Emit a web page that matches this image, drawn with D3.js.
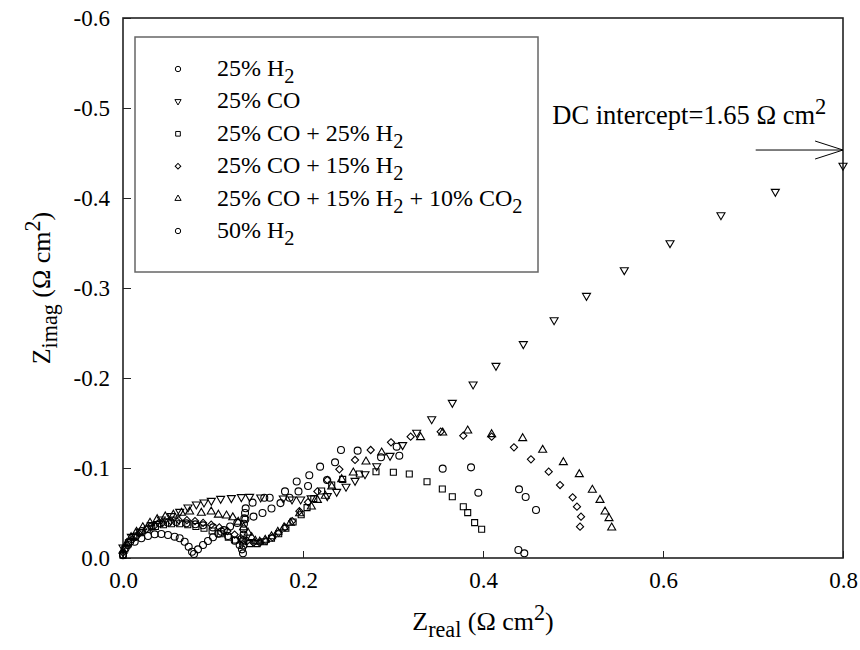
<!DOCTYPE html>
<html>
<head>
<meta charset="utf-8">
<script src="https://cdn.jsdelivr.net/npm/d3@7"></script>
<style>
  body { margin: 0; background: #fff; }
  text { font-family: "Liberation Serif", "Times New Roman", serif; }
</style>
</head>
<body>
<div id="chart"></div>
<script>
// series names (legend order)
let seriesNames = ['25% H2', '25% CO', '25% CO + 25% H2', '25% CO + 15% H2', '25% CO + 15% H2 + 10% CO2', '50% H2'];

// [Zreal, Zimag] pairs
let h2_25 = [
  [0.000, -0.003], [0.003, -0.011], [0.008, -0.018], [0.014, -0.024], [0.021, -0.030], [0.0315, -0.0348],
  [0.0407, -0.0385], [0.050, -0.0393], [0.0593, -0.040], [0.0704, -0.0385], [0.0804, -0.0374], [0.0889, -0.0363],
  [0.100, -0.034], [0.1093, -0.0293], [0.1167, -0.0244], [0.1241, -0.0193], [0.1296, -0.0144], [0.1322, -0.0096],
  [0.1333, -0.0052], [0.1337, -0.014], [0.1337, -0.020], [0.1340, -0.026], [0.1341, -0.032], [0.1344, -0.038],
  [0.1348, -0.044], [0.1356, -0.050], [0.1363, -0.0552], [0.144, -0.0615], [0.157, -0.067], [0.163, -0.067],
  [0.180, -0.074], [0.193, -0.085], [0.207, -0.092], [0.219, -0.1015], [0.2422, -0.120], [0.2607, -0.1193],
  [0.3041, -0.1237], [0.3867, -0.1007], [0.3948, -0.0726], [0.4393, -0.0089], [0.4459, -0.0052]
];
let co_25 = [
  [0.000, -0.0119], [0.0093, -0.0237], [0.0185, -0.0293], [0.0315, -0.0367], [0.0426, -0.043], [0.0537, -0.0467],
  [0.063, -0.0515], [0.0722, -0.0563], [0.0815, -0.0596], [0.090, -0.0619], [0.0981, -0.0637], [0.1085, -0.0659],
  [0.1204, -0.0667], [0.1315, -0.0678], [0.1407, -0.0681], [0.153, -0.0674], [0.1781, -0.0663], [0.1878, -0.0652],
  [0.1974, -0.0652], [0.209, -0.0665], [0.227, -0.0689], [0.2374, -0.0737], [0.2478, -0.0793], [0.2578, -0.0859],
  [0.2689, -0.0933], [0.2819, -0.1022], [0.2967, -0.1137], [0.3107, -0.1256], [0.3263, -0.1393], [0.343, -0.1544],
  [0.3659, -0.1726], [0.389, -0.193], [0.4144, -0.2137], [0.4448, -0.2378], [0.479, -0.2644], [0.515, -0.2914],
  [0.557, -0.320], [0.6078, -0.350], [0.6644, -0.381], [0.7248, -0.407], [0.800, -0.436]
];
let co25_h2_25 = [
  [0.000, -0.003], [0.002, -0.010], [0.006, -0.017], [0.012, -0.023], [0.019, -0.028], [0.027, -0.032],
  [0.036, -0.035], [0.045, -0.037], [0.054, -0.038], [0.063, -0.038], [0.072, -0.037], [0.081, -0.035],
  [0.090, -0.033], [0.099, -0.030], [0.108, -0.027], [0.117, -0.023], [0.125, -0.020], [0.133, -0.018],
  [0.141, -0.016], [0.149, -0.016], [0.157, -0.018], [0.165, -0.022], [0.173, -0.027], [0.181, -0.033],
  [0.189, -0.040], [0.198, -0.048], [0.2045, -0.056], [0.212, -0.066], [0.2207, -0.0744], [0.2319, -0.0811],
  [0.2441, -0.0874], [0.2626, -0.0933], [0.2811, -0.0959], [0.3004, -0.0952], [0.3181, -0.0933], [0.3378, -0.0848],
  [0.3548, -0.0767], [0.3659, -0.0681], [0.3781, -0.057], [0.383, -0.0504], [0.3907, -0.0393], [0.3985, -0.0319]
];
let co25_h2_15 = [
  [0.000, -0.006], [0.005, -0.014], [0.011, -0.021], [0.018, -0.027], [0.026, -0.032], [0.035, -0.036],
  [0.044, -0.039], [0.053, -0.041], [0.062, -0.042], [0.071, -0.042], [0.080, -0.041], [0.089, -0.039],
  [0.098, -0.037], [0.107, -0.034], [0.116, -0.030], [0.124, -0.026], [0.131, -0.022], [0.138, -0.019],
  [0.145, -0.017], [0.152, -0.017], [0.159, -0.019], [0.166, -0.023], [0.173, -0.028], [0.180, -0.034],
  [0.188, -0.041], [0.196, -0.052], [0.2056, -0.062], [0.216, -0.074], [0.227, -0.0867], [0.2404, -0.0985],
  [0.2578, -0.1089], [0.2752, -0.120], [0.2978, -0.1285], [0.3196, -0.1348], [0.353, -0.1404], [0.3781, -0.1359],
  [0.4096, -0.1348], [0.4344, -0.123], [0.4533, -0.1096], [0.473, -0.0959], [0.4856, -0.0811], [0.4996, -0.0674],
  [0.5044, -0.057], [0.5089, -0.0459], [0.5078, -0.0348]
];
let co25_h2_15_co2_10 = [
  [0.000, -0.008], [0.004, -0.016], [0.009, -0.023], [0.015, -0.029], [0.022, -0.034], [0.030, -0.039],
  [0.038, -0.043], [0.047, -0.046], [0.056, -0.048], [0.065, -0.050], [0.074, -0.0515], [0.087, -0.050],
  [0.098, -0.0515], [0.106, -0.048], [0.115, -0.047], [0.122, -0.045], [0.128, -0.040], [0.134, -0.034],
  [0.139, -0.028], [0.143, -0.023], [0.147, -0.019], [0.152, -0.018], [0.158, -0.020], [0.165, -0.024],
  [0.172, -0.029], [0.179, -0.034], [0.186, -0.039], [0.1963, -0.0496], [0.2093, -0.057], [0.216, -0.0644],
  [0.2248, -0.0689], [0.2319, -0.0793], [0.243, -0.0874], [0.2559, -0.0948], [0.270, -0.107], [0.2874, -0.117],
  [0.3307, -0.1341], [0.3552, -0.1393], [0.383, -0.1415], [0.4096, -0.1374], [0.4441, -0.133], [0.4663, -0.120],
  [0.4893, -0.1063], [0.507, -0.093], [0.5215, -0.0756], [0.530, -0.0644], [0.5356, -0.0515], [0.540, -0.0441],
  [0.543, -0.0337]
];
let h2_50 = [
  [0.000, -0.004], [0.0056, -0.0144], [0.013, -0.0181], [0.0204, -0.0219], [0.0278, -0.0244], [0.0352, -0.0263],
  [0.0426, -0.0267], [0.050, -0.0256], [0.0574, -0.0237], [0.063, -0.0219], [0.0685, -0.0181], [0.073, -0.0126],
  [0.0767, -0.007], [0.0789, -0.0044], [0.0833, -0.0096], [0.0889, -0.0144], [0.0944, -0.0189], [0.100, -0.023],
  [0.106, -0.027], [0.112, -0.031], [0.119, -0.035], [0.127, -0.039], [0.136, -0.043], [0.145, -0.046],
  [0.155, -0.050], [0.165, -0.055], [0.175, -0.061], [0.185, -0.067], [0.195, -0.074], [0.2056, -0.080],
  [0.2267, -0.0867], [0.2356, -0.1063], [0.2867, -0.1119], [0.307, -0.1137], [0.3552, -0.0993], [0.440, -0.0763],
  [0.4474, -0.0678], [0.4589, -0.0533]
];

let xTicks = [0.0, 0.2, 0.4, 0.6, 0.8];
let yTicks = [0.0, -0.1, -0.2, -0.3, -0.4, -0.5, -0.6];

let width = 860;
let height = 650;
let margin = { top: 18, right: 17, bottom: 92, left: 123 };

let allSeries = [h2_25, co_25, co25_h2_25, co25_h2_15, co25_h2_15_co2_10, h2_50];
// marker for each series: [d3 symbol, size, rotation]
let markers = [
  [d3.symbolCircle, 38, 0],
  [d3.symbolTriangle, 28, 180],
  [d3.symbolSquare, 36, 0],
  [d3.symbolSquare, 26, 45],
  [d3.symbolTriangle, 28, 0],
  [d3.symbolCircle, 38, 0]
];

const svg = d3.select('#chart').append('svg')
  .attr('width', width)
  .attr('height', height);

let x = d3.scaleLinear()
  .domain([0, 0.8])
  .range([margin.left, width - margin.right]);

let y = d3.scaleLinear()
  .domain([0, -0.6])
  .range([height - margin.bottom, margin.top]);

let fmt = d => d3.format('.1f')(d).replace('\u2212', '-');

// x axis, ticks point inward
svg.append('g')
  .attr('transform', `translate(0, ${y(0)})`)
  .call(d3.axisBottom(x).tickValues(xTicks).tickSize(-7).tickPadding(14).tickFormat(fmt))
  .call(g => g.select('.domain').remove())
  .call(g => g.selectAll('.tick line').attr('stroke', '#222'))
  .call(g => g.selectAll('.tick text').attr('font-size', 23).attr('fill', '#000'));

svg.append('g')
  .attr('transform', `translate(${x(0)}, 0)`)
  .call(d3.axisLeft(y).tickValues(yTicks).tickSize(-8).tickPadding(13).tickFormat(fmt))
  .call(g => g.select('.domain').remove())
  .call(g => g.selectAll('.tick line').attr('stroke', '#222'))
  .call(g => g.selectAll('.tick text').attr('font-size', 23).attr('fill', '#000'));

// frame
svg.append('rect')
  .attr('x', x(0))
  .attr('y', y(-0.6))
  .attr('width', x(0.8) - x(0))
  .attr('height', y(0) - y(-0.6))
  .attr('fill', 'none')
  .attr('stroke', '#222')
  .attr('stroke-width', 1.6);

// data points
allSeries.forEach((data, i) => {
  let m = markers[i];
  let sym = d3.symbol().type(m[0]).size(m[1]);
  svg.append('g')
    .selectAll('path')
    .data(data)
    .join('path')
    .attr('d', sym)
    .attr('transform', d => `translate(${x(d[0])}, ${y(d[1])}) rotate(${m[2]})`)
    .attr('fill', 'none')
    .attr('stroke', '#000')
    .attr('stroke-width', 1.1);
});

// legend
let legend = svg.append('g');
legend.append('rect')
  .attr('x', 135).attr('y', 37)
  .attr('width', 403).attr('height', 235)
  .attr('fill', '#fff')
  .attr('stroke', '#666')
  .attr('stroke-width', 1.5);

// label with subscripts: split on H2 / CO2
function addLabel(t, str) {
  let parts = str.split(/(H2|CO2)/).filter(s => s.length);
  let shift = 0;
  parts.forEach(p => {
    if (p === 'H2' || p === 'CO2') {
      t.append('tspan').attr('dy', -shift).text(p.slice(0, -1));
      t.append('tspan').attr('dy', 7).attr('font-size', '0.85em').text('2');
      shift = 7;
    } else {
      t.append('tspan').attr('dy', -shift).text(p);
      shift = 0;
    }
  });
}

seriesNames.forEach((name, i) => {
  let yy = 69 + i * 32.4;
  let m = markers[i];
  legend.append('path')
    .attr('d', d3.symbol().type(m[0]).size(m[1] * 0.6))
    .attr('transform', `translate(178, ${yy}) rotate(${m[2]})`)
    .attr('fill', 'none')
    .attr('stroke', '#000')
    .attr('stroke-width', 1);
  let t = legend.append('text')
    .attr('x', 217).attr('y', yy + 7)
    .attr('font-size', 24)
    .attr('fill', '#000');
  addLabel(t, name);
});

// DC intercept annotation
let ay = y(-0.4533);
svg.append('line')
  .attr('x1', x(0.703)).attr('x2', x(0.8))
  .attr('y1', ay).attr('y2', ay)
  .attr('stroke', '#000').attr('stroke-width', 1);
svg.append('path')
  .attr('d', `M${x(0.769)},${ay - 9}L${x(0.8)},${ay}L${x(0.769)},${ay + 9}`)
  .attr('fill', 'none').attr('stroke', '#000').attr('stroke-width', 1);

let dc = svg.append('text')
  .attr('x', x(0.477)).attr('y', y(-0.4822))
  .attr('font-size', 26.5)
  .attr('fill', '#000');
dc.append('tspan').text('DC intercept=1.65 \u03A9 cm');
dc.append('tspan').attr('dy', -10).attr('font-size', '0.85em').text('2');

// axis titles
let xt = svg.append('text')
  .attr('x', (x(0) + x(0.8)) / 2).attr('y', 630)
  .attr('text-anchor', 'middle')
  .attr('font-size', 26)
  .attr('fill', '#000');
xt.append('tspan').text('Z');
xt.append('tspan').attr('dy', 7).attr('font-size', '0.85em').text('real');
xt.append('tspan').attr('dy', -7).text(' (\u03A9 cm');
xt.append('tspan').attr('dy', -10).attr('font-size', '0.85em').text('2');
xt.append('tspan').attr('dy', 10).text(')');

let yt = svg.append('text')
  .attr('transform', `translate(50, ${(y(0) + y(-0.6)) / 2}) rotate(-90)`)
  .attr('text-anchor', 'middle')
  .attr('font-size', 26)
  .attr('fill', '#000');
yt.append('tspan').text('Z');
yt.append('tspan').attr('dy', 7).attr('font-size', '0.85em').text('imag');
yt.append('tspan').attr('dy', -7).text(' (\u03A9 cm');
yt.append('tspan').attr('dy', -10).attr('font-size', '0.85em').text('2');
yt.append('tspan').attr('dy', 10).text(')');
</script>
</body>
</html>
